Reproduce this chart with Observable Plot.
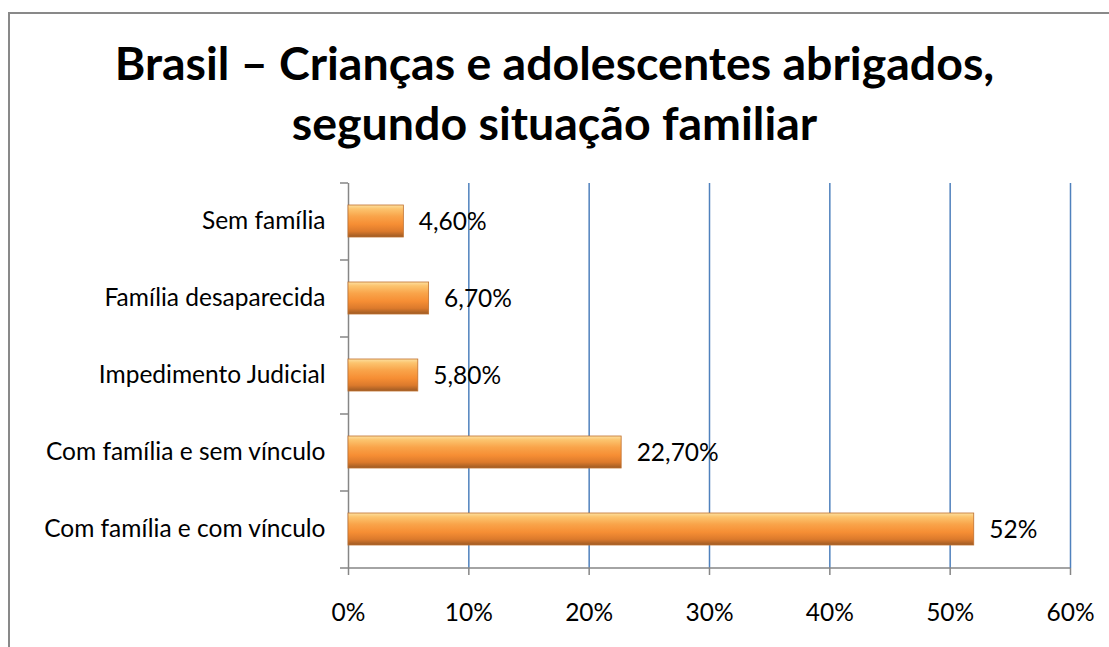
<!DOCTYPE html>
<html>
<head>
<meta charset="utf-8">
<script src="https://cdn.jsdelivr.net/npm/d3@7"></script>
<script src="https://cdn.jsdelivr.net/npm/@observablehq/plot@0.6"></script>
<style>
  html, body { margin: 0; padding: 0; background: #fff; overflow: hidden; width: 1109px; height: 647px; }
  #frame { position: absolute; left: 8px; top: 12px; width: 1300px; height: 900px; border: 2px solid #898989; box-sizing: border-box; }
  #wrap { position: absolute; left: 0; top: 0; width: 1109px; }
  #title { height: 150px; box-sizing: border-box; padding-top: 32px; text-align: center; font-family: Lato, "Open Sans", sans-serif; font-weight: bold; font-size: 46.5px; line-height: 60px; color: #000; white-space: nowrap; }
  #chart svg { display: block; }
</style>
</head>
<body>
<div id="frame"></div>
<div id="wrap">
  <div id="title">Brasil – Crianças e adolescentes abrigados,<br>segundo situação familiar</div>
  <div id="chart"></div>
</div>
<script>
const categories = ["Sem família", "Família desaparecida", "Impedimento Judicial", "Com família e sem vínculo", "Com família e com vínculo"];
const values = [4.6, 6.7, 5.8, 22.7, 52];
const valueLabels = ["4,60%", "6,70%", "5,80%", "22,70%", "52%"];
const xTicks = [0, 10, 20, 30, 40, 50, 60];
const gridTicks = [10, 20, 30, 40, 50, 60];

const data = categories.map((c, i) => ({cat: c, value: values[i], label: valueLabels[i]}));
const step = (497 - 33 - 79) / categories.length;
const fs = 24.5;

const plot = Plot.plot({
  width: 1109,
  height: 497,
  marginTop: 33,
  marginBottom: 79,
  marginLeft: 348,
  marginRight: 39,
  style: {fontFamily: "Lato, 'Open Sans', sans-serif", fontSize: fs + "px", color: "#000", background: "transparent"},
  x: {domain: [0, 60], ticks: xTicks, tickFormat: d => d + "%"},
  y: {domain: categories, paddingInner: 0.58, paddingOuter: 0.29},
  marks: [
    Plot.ruleX(gridTicks, {stroke: "#4f81bd", strokeWidth: 1.5}),
    Plot.ruleX([0], {stroke: "#868686", strokeWidth: 1.5}),
    Plot.ruleY(categories, {y: d => d, x1: 0, x2: 0, insetLeft: -8, dy: -step / 2, stroke: "#868686", strokeWidth: 1.5}),
    Plot.ruleY([categories[categories.length - 1]], {y: d => d, x1: 0, x2: 60, insetLeft: -8, dy: step / 2, stroke: "#868686", strokeWidth: 1.5}),
    Plot.barX(data, {x: "value", y: "cat", fill: "url(#barGrad)", stroke: "#c0702e", strokeWidth: 0.8}),
    Plot.text(data, {x: "value", y: "cat", text: "label", textAnchor: "start", dx: 15, dy: 1, fontSize: fs, fill: "#000"}),
    Plot.axisX({ticks: xTicks, tickFormat: d => d + "%", tickSize: 7, tickPadding: 28, fontSize: fs, stroke: "#868686", strokeWidth: 1.5, fill: "#000", label: null}),
    Plot.axisY({tickSize: 0, tickPadding: 23, fontSize: fs, fill: "#000", label: null})
  ]
});

const ns = "http://www.w3.org/2000/svg";
const defs = document.createElementNS(ns, "defs");
const grad = document.createElementNS(ns, "linearGradient");
grad.setAttribute("id", "barGrad");
grad.setAttribute("x1", "0"); grad.setAttribute("y1", "0");
grad.setAttribute("x2", "0"); grad.setAttribute("y2", "1");
[["0%", "#fde0a0"], ["12%", "#fcc46e"], ["35%", "#f9a44a"], ["60%", "#f68e34"], ["82%", "#dc7a2c"], ["100%", "#9c5a24"]].forEach(([o, c]) => {
  const s = document.createElementNS(ns, "stop");
  s.setAttribute("offset", o); s.setAttribute("stop-color", c);
  grad.appendChild(s);
});
defs.appendChild(grad);
plot.insertBefore(defs, plot.firstChild);
document.getElementById("chart").appendChild(plot);
</script>
</body>
</html>
